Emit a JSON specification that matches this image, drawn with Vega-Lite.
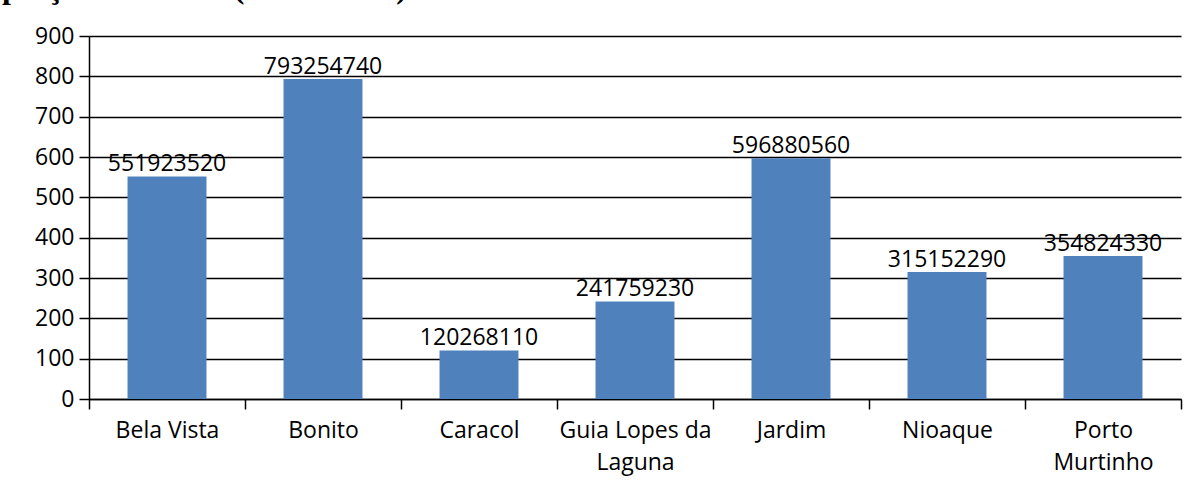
{
  "$schema": "https://vega.github.io/schema/vega-lite/v6.json",
  "width": 1092,
  "height": 363,
  "autosize": {"type": "none"},
  "padding": {"left": 89, "top": 36, "right": 15, "bottom": 101},
  "background": "white",
  "title": {
    "text": "preços correntes (R$ milhões)",
    "anchor": "start",
    "frame": "group",
    "font": "Liberation Serif",
    "fontSize": 32,
    "fontWeight": "bold",
    "color": "black",
    "dx": -87,
    "dy": 5,
    "offset": 0,
    "baseline": "alphabetic"
  },
  "data": {
    "values": [
      {"municipio": "Bela Vista", "valor": 551923520},
      {"municipio": "Bonito", "valor": 793254740},
      {"municipio": "Caracol", "valor": 120268110},
      {"municipio": "Guia Lopes da Laguna", "valor": 241759230},
      {"municipio": "Jardim", "valor": 596880560},
      {"municipio": "Nioaque", "valor": 315152290},
      {"municipio": "Porto Murtinho", "valor": 354824330}
    ]
  },
  "encoding": {
    "x": {
      "field": "municipio",
      "type": "nominal",
      "sort": null,
      "scale": {"paddingInner": 0, "paddingOuter": 0},
      "axis": {
        "title": null,
        "labelAngle": 0,
        "tickBand": "extent",
        "tickSize": 10,
        "tickWidth": 1.5,
        "tickColor": "black",
        "domainColor": "black",
        "domainWidth": 1.5,
        "labelFont": "Open Sans",
        "labelFontSize": 23,
        "labelColor": "black",
        "labelPadding": 10,
        "labelLineHeight": 32,
        "labelExpr": "datum.label == 'Guia Lopes da Laguna' ? ['Guia Lopes da', 'Laguna'] : datum.label == 'Porto Murtinho' ? ['Porto', 'Murtinho'] : datum.label"
      }
    },
    "y": {
      "field": "valor",
      "type": "quantitative",
      "scale": {"domain": [0, 900000000], "nice": false},
      "axis": {
        "title": null,
        "values": [0, 100000000, 200000000, 300000000, 400000000, 500000000, 600000000, 700000000, 800000000, 900000000],
        "labelExpr": "format(datum.value / 1000000, 'd')",
        "grid": true,
        "gridColor": "black",
        "gridWidth": 1.5,
        "gridOpacity": 1,
        "tickSize": 10,
        "tickWidth": 1.5,
        "tickColor": "black",
        "domainColor": "black",
        "domainWidth": 1.5,
        "labelFont": "Open Sans",
        "labelFontSize": 23,
        "labelColor": "black",
        "labelPadding": 5
      }
    }
  },
  "layer": [
    {"mark": {"type": "bar", "color": "#4F81BD", "width": {"band": 0.506}}},
    {
      "mark": {"type": "text", "baseline": "bottom", "dy": 0, "font": "Open Sans", "fontSize": 23, "color": "black"},
      "encoding": {"text": {"field": "valor", "type": "quantitative", "format": "d"}}
    }
  ],
  "config": {"view": {"stroke": null}}
}
